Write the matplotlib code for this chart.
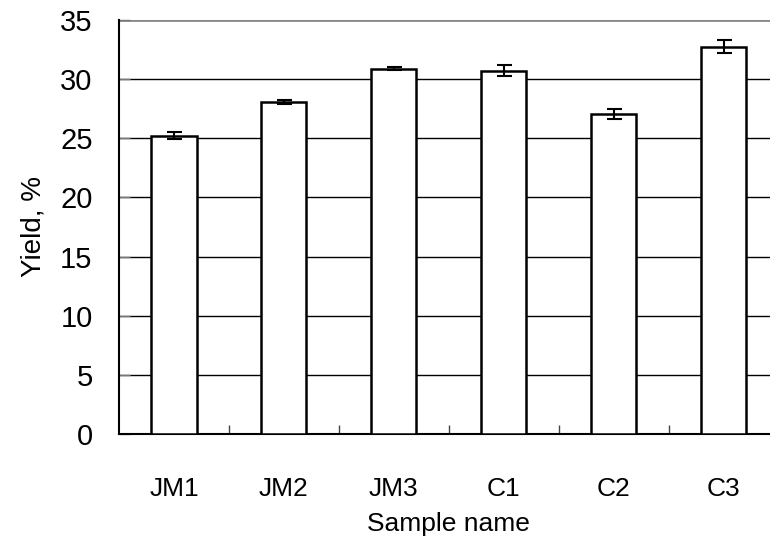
import matplotlib
matplotlib.use("Agg")
import matplotlib.pyplot as plt
import numpy as np

categories = ["JM1", "JM2", "JM3", "C1", "C2", "C3"]
yield_pct = [25.2, 28.05, 30.88, 30.7, 27.05, 32.7]
yield_err = [0.28, 0.15, 0.12, 0.48, 0.42, 0.55]
y_ticks = [0, 5, 10, 15, 20, 25, 30, 35]

plt.rcParams['font.family'] = ['Liberation Sans', 'DejaVu Sans']

fig = plt.figure(figsize=(7.7, 5.37), dpi=100)
ax = fig.add_axes([0.1545, 0.1913, 0.857, 0.772])

x = np.arange(len(categories))
ax.bar(x, yield_pct, width=0.41, color="white", edgecolor="black", linewidth=1.8, zorder=3)
ax.errorbar(x, yield_pct, yerr=yield_err, fmt="none", ecolor="black",
            elinewidth=1.5, capsize=5.4, capthick=1.5, zorder=4)

ax.set_xlim(-0.5, len(categories) - 0.5)
ax.set_ylim(0, 35)
ax.set_yticks(y_ticks)
ax.set_yticklabels([str(t) for t in y_ticks], fontsize=21)
ax.set_xticks(x)
ax.set_xticklabels(categories, fontsize=19)
ax.set_xticks(np.arange(0.5, len(categories) - 1, 1.0), minor=True)

ax.tick_params(axis="x", which="major", length=0, pad=31)
ax.tick_params(axis="x", which="minor", direction="in", length=6.5, width=1.0, color="#444444")
ax.tick_params(axis="y", direction="in", length=8, width=1.0, color="#777777", pad=19)

for yv in y_ticks[1:-1]:
    ax.axhline(yv, color="black", linewidth=1.0, zorder=1)
ax.axhline(35, color="#888888", linewidth=2.0, zorder=1)

ax.spines["top"].set_visible(False)
ax.spines["right"].set_visible(False)
ax.spines["left"].set_linewidth(1.5)
ax.spines["bottom"].set_linewidth(1.5)

ax.set_ylabel("Yield, %", fontsize=20, labelpad=10)
ax.set_xlabel("Sample name", fontsize=19, labelpad=8)

fig.savefig("out.png", dpi=100)
